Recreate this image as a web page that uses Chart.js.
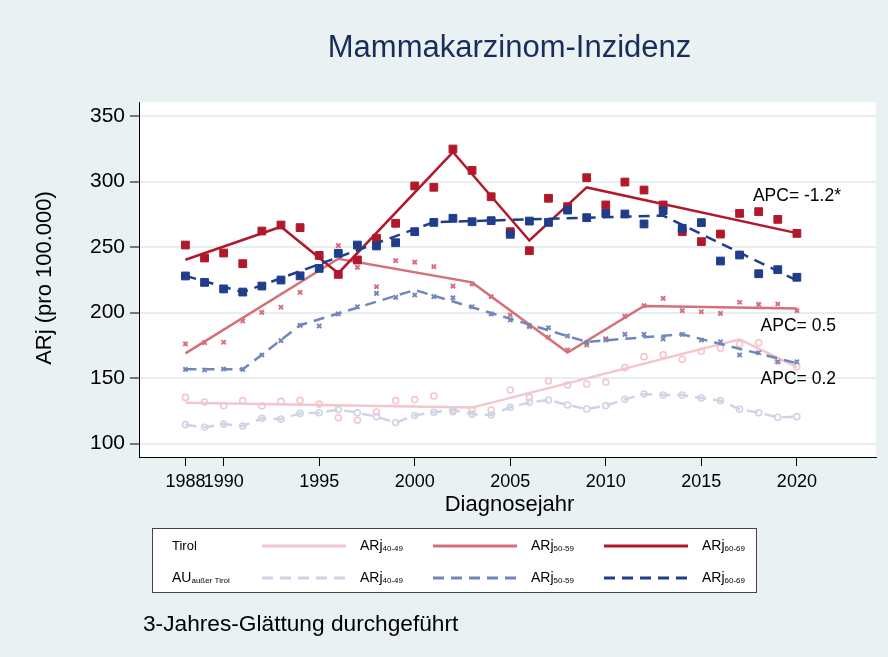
<!DOCTYPE html>
<html>
<head>
<meta charset="utf-8">
<script src="https://cdn.jsdelivr.net/npm/chart.js@4.4.1/dist/chart.umd.min.js"></script>
<style>
  html, body { margin: 0; padding: 0; background: #e9f1f3; }
  #wrap { width: 888px; height: 657px; }
</style>
</head>
<body>
<div id="wrap"><canvas id="chart" width="888" height="657"></canvas></div>
<script>
// years shown on the x axis
const years = [1988, 1989, 1990, 1991, 1992, 1993, 1994, 1995, 1996, 1997, 1998,
  1999, 2000, 2001, 2002, 2003, 2004, 2005, 2006, 2007, 2008, 2009, 2010,
  2011, 2012, 2013, 2014, 2015, 2016, 2017, 2018, 2019, 2020];
const xTicks = [1988, 1990, 1995, 2000, 2005, 2010, 2015, 2020];
const yTicks = [100, 150, 200, 250, 300, 350];

// observed (3-year smoothed) rates
const tirol4049 = [135.2, 131.7, 128.9, 132.7, 128.6, 132.2, 132.9, 130.1, 119.7, 117.7, 124.0,
  132.7, 133.5, 136.3, 124.3, 125.6, 125.6, 140.8, 135.2, 147.7, 144.7, 145.4, 146.7,
  157.9, 166.3, 167.8, 164.3, 170.4, 172.7, 176.0, 177.0, 163.0, 158.6];
const tirol5059 = [176.0, 177.0, 177.3, 193.5, 200.1, 204.0, 215.4, 242.0, 251.0, 234.5, 219.7,
  239.6, 238.5, 235.0, 220.2, 221.8, 212.1, 198.1, 189.2, 181.1, 171.4, 175.2, 180.0,
  197.3, 205.2, 210.8, 201.4, 200.6, 199.4, 207.8, 206.2, 206.5, 201.4];
const tirol6069 = [251.5, 241.6, 245.4, 237.3, 262.2, 266.8, 264.8, 243.6, 229.1, 240.1, 256.6,
  268.1, 296.6, 295.6, 324.8, 308.5, 288.4, 261.7, 247.2, 287.2, 280.8, 302.9, 282.1,
  299.6, 293.5, 282.1, 261.7, 254.1, 259.9, 275.7, 277.0, 271.1, 260.4];
const au4049 = [114.4, 112.4, 114.8, 113.4, 119.2, 118.6, 123.0, 123.5, 125.9, 123.5, 120.5,
  116.0, 121.4, 123.9, 125.5, 122.4, 121.8, 127.6, 131.4, 133.2, 129.4, 126.3, 128.9,
  133.7, 137.8, 137.0, 137.0, 134.7, 132.7, 126.1, 123.5, 120.0, 120.5];
const au5059 = [156.6, 156.1, 156.9, 156.6, 167.6, 178.5, 190.2, 189.7, 198.9, 204.4, 214.6,
  211.6, 213.4, 212.1, 211.3, 204.4, 198.9, 194.3, 190.0, 188.4, 182.1, 177.0, 179.0,
  183.3, 183.3, 179.8, 183.3, 179.0, 177.7, 167.6, 169.3, 162.4, 162.4];
const au6069 = [227.9, 223.0, 218.0, 215.6, 220.2, 224.8, 228.0, 233.7, 245.2, 251.5, 250.8,
  253.3, 261.7, 268.8, 271.9, 269.3, 270.1, 259.7, 269.8, 268.8, 278.2, 272.4, 275.7,
  275.2, 267.6, 277.7, 264.3, 268.6, 239.3, 243.9, 229.6, 232.7, 226.9];

// joinpoint trend lines (years of the joints and fitted values)
const tirol4049FitYears = [1988, 2003, 2017, 2020];
const tirol4049Fit = [131.2, 127.4, 179.5, 158.4];
const tirol5059FitYears = [1988, 1996, 2003, 2008, 2012, 2020];
const tirol5059Fit = [168.8, 241.0, 223.0, 169.5, 205.0, 203.0];
const tirol6069FitYears = [1988, 1993, 1996, 2002, 2006, 2009, 2020];
const tirol6069Fit = [240.3, 265.5, 230.0, 322.5, 255.0, 295.5, 260.6];
const au5059FitYears = [1988, 1991, 1994, 2000, 2009, 2014, 2020];
const au5059Fit = [156.6, 156.6, 190.3, 217.2, 177.6, 183.4, 161.3];
const au6069FitYears = [1988, 1991, 2001, 2013, 2020];
const au6069Fit = [228.0, 215.5, 269.0, 274.0, 224.5];

// APC annotations
const apcTexts = ['APC= -1.2*', 'APC= 0.5', 'APC= 0.2'];
const apcYears = [2017.7, 2018.1, 2018.1];
const apcValues = [289, 189.2, 149];

const ageGroups = ['40-49', '50-59', '60-69'];
const tirolColors = ['#f2c6cc', '#d4707a', '#b2182b'];
const auColors = ['#cfd4e5', '#7186bb', '#1f3d8a'];

const pts = (xs, ys) => xs.map((x, i) => ({ x: x, y: ys[i] }));
const FONT = "'Liberation Sans', Arial, Helvetica, sans-serif";
const DASH = [11, 7];

const markers = (data, color, style, r, bw, fill) => ({
  data: data, showLine: false, pointStyle: style, pointRadius: r,
  pointBorderWidth: bw, borderColor: color, backgroundColor: fill ? color : 'transparent'
});
const trend = (data, color, dashed) => ({
  data: data, showLine: true, pointRadius: 0, borderColor: color,
  borderWidth: 2.5, borderDash: dashed ? DASH : [], tension: 0, fill: false
});

const datasets = [
  markers(pts(years, au6069), auColors[2], 'rect', 5.5, 1, true),
  trend(pts(au6069FitYears, au6069Fit), auColors[2], true),
  markers(pts(years, au5059), auColors[1], 'crossRot', 3, 2, false),
  trend(pts(au5059FitYears, au5059Fit), auColors[1], true),
  Object.assign(markers(pts(years, au4049), auColors[0], 'circle', 3, 1.6, false),
    { showLine: true, borderWidth: 2.5, borderDash: DASH }),
  markers(pts(years, tirol6069), tirolColors[2], 'rect', 5.5, 1, true),
  trend(pts(tirol6069FitYears, tirol6069Fit), tirolColors[2], false),
  markers(pts(years, tirol5059), tirolColors[1], 'crossRot', 3, 2, false),
  trend(pts(tirol5059FitYears, tirol5059Fit), tirolColors[1], false),
  markers(pts(years, tirol4049), tirolColors[0], 'circle', 3, 1.6, false),
  trend(pts(tirol4049FitYears, tirol4049Fit), tirolColors[0], false)
];

function drawLegend(ctx) {
  ctx.save();
  ctx.fillStyle = '#fff';
  ctx.fillRect(152, 528, 605, 64);
  ctx.strokeStyle = '#444';
  ctx.lineWidth = 1;
  ctx.strokeRect(152.5, 528.5, 604, 64);

  const rows = [546, 578];
  const lineX = [262, 433, 604];
  ctx.fillStyle = '#000';
  ctx.textBaseline = 'middle';
  ctx.textAlign = 'left';
  ctx.font = '13px ' + FONT;
  ctx.fillText('Tirol', 172, rows[0]);
  ctx.font = '14px ' + FONT;
  ctx.fillText('AU', 172, rows[1]);
  const auW = ctx.measureText('AU').width;
  ctx.font = '8px ' + FONT;
  ctx.fillText('außer Tirol', 172 + auW, rows[1] + 3);

  for (let r = 0; r < 2; r++) {
    const cols = r === 0 ? tirolColors : auColors;
    for (let i = 0; i < 3; i++) {
      ctx.strokeStyle = cols[i];
      ctx.lineWidth = 2.8;
      ctx.setLineDash(r === 0 ? [] : DASH);
      ctx.beginPath();
      ctx.moveTo(lineX[i], rows[r]);
      ctx.lineTo(lineX[i] + 84, rows[r]);
      ctx.stroke();
      ctx.setLineDash([]);
      ctx.fillStyle = '#000';
      ctx.font = '14px ' + FONT;
      ctx.fillText('ARj', lineX[i] + 98, rows[r]);
      const w = ctx.measureText('ARj').width;
      ctx.font = '8px ' + FONT;
      ctx.fillText(ageGroups[i], lineX[i] + 98 + w, rows[r] + 3);
    }
  }
  ctx.restore();
}

const frame = {
  id: 'frame',
  beforeDraw(chart) {
    const { ctx, chartArea: a } = chart;
    ctx.save();
    ctx.fillStyle = '#e9f1f3';
    ctx.fillRect(0, 0, chart.width, chart.height);
    ctx.fillStyle = '#fff';
    ctx.fillRect(a.left, a.top, a.right - a.left, a.bottom - a.top);
    ctx.restore();
  },
  afterDatasetsDraw(chart) {
    const { ctx, scales } = chart;
    ctx.save();
    ctx.fillStyle = '#000';
    ctx.font = '17.5px ' + FONT;
    ctx.textAlign = 'left';
    ctx.textBaseline = 'middle';
    apcTexts.forEach((t, i) => {
      ctx.fillText(t, scales.x.getPixelForValue(apcYears[i]), scales.y.getPixelForValue(apcValues[i]));
    });
    ctx.restore();
  },
  afterDraw(chart) {
    const { ctx, chartArea: a } = chart;
    ctx.save();
    ctx.textAlign = 'center';
    ctx.textBaseline = 'middle';
    ctx.fillStyle = '#1c2c5a';
    ctx.font = '31px ' + FONT;
    ctx.fillText('Mammakarzinom-Inzidenz', (a.left + a.right) / 2 + 2, 48);
    ctx.fillStyle = '#000';
    ctx.font = '22px ' + FONT;
    ctx.fillText('Diagnosejahr', (a.left + a.right) / 2 + 2, 505);
    ctx.save();
    ctx.translate(45, 278);
    ctx.rotate(-Math.PI / 2);
    ctx.fillText('ARj (pro 100.000)', 0, 0);
    ctx.restore();
    ctx.textAlign = 'left';
    ctx.font = '22.7px ' + FONT;
    ctx.fillText('3-Jahres-Glättung durchgeführt', 143, 625);
    ctx.restore();
    drawLegend(ctx);
  }
};

Chart.defaults.font.family = FONT;

new Chart(document.getElementById('chart'), {
  type: 'scatter',
  data: { datasets: datasets },
  options: {
    responsive: false,
    animation: false,
    layout: { padding: { left: 0, top: 102, right: 12, bottom: 0 } },
    plugins: { legend: { display: false }, tooltip: { enabled: false } },
    scales: {
      x: {
        type: 'linear', min: 1985.57, max: 2024.14,
        afterBuildTicks: s => { s.ticks = xTicks.map(v => ({ value: v })); },
        afterFit: s => { s.height = 200; },
        ticks: { autoSkip: false, maxRotation: 0, minRotation: 0, padding: 5, color: '#000',
          font: { size: 18 }, callback: v => String(v) },
        grid: { drawOnChartArea: false, tickLength: 9, tickColor: '#000', tickWidth: 1 },
        border: { display: true, color: '#000', width: 1 }
      },
      y: {
        min: 89.7, max: 360.7,
        afterBuildTicks: s => { s.ticks = yTicks.map(v => ({ value: v })); },
        afterFit: s => { s.width = 139; },
        ticks: { padding: 5, color: '#000', font: { size: 21 }, callback: v => String(v) },
        grid: { color: '#e6eef0', lineWidth: 2, tickLength: 9, tickColor: '#000', tickWidth: 1 },
        border: { display: true, color: '#000', width: 1 }
      }
    }
  },
  plugins: [frame]
});
</script>
</body>
</html>
